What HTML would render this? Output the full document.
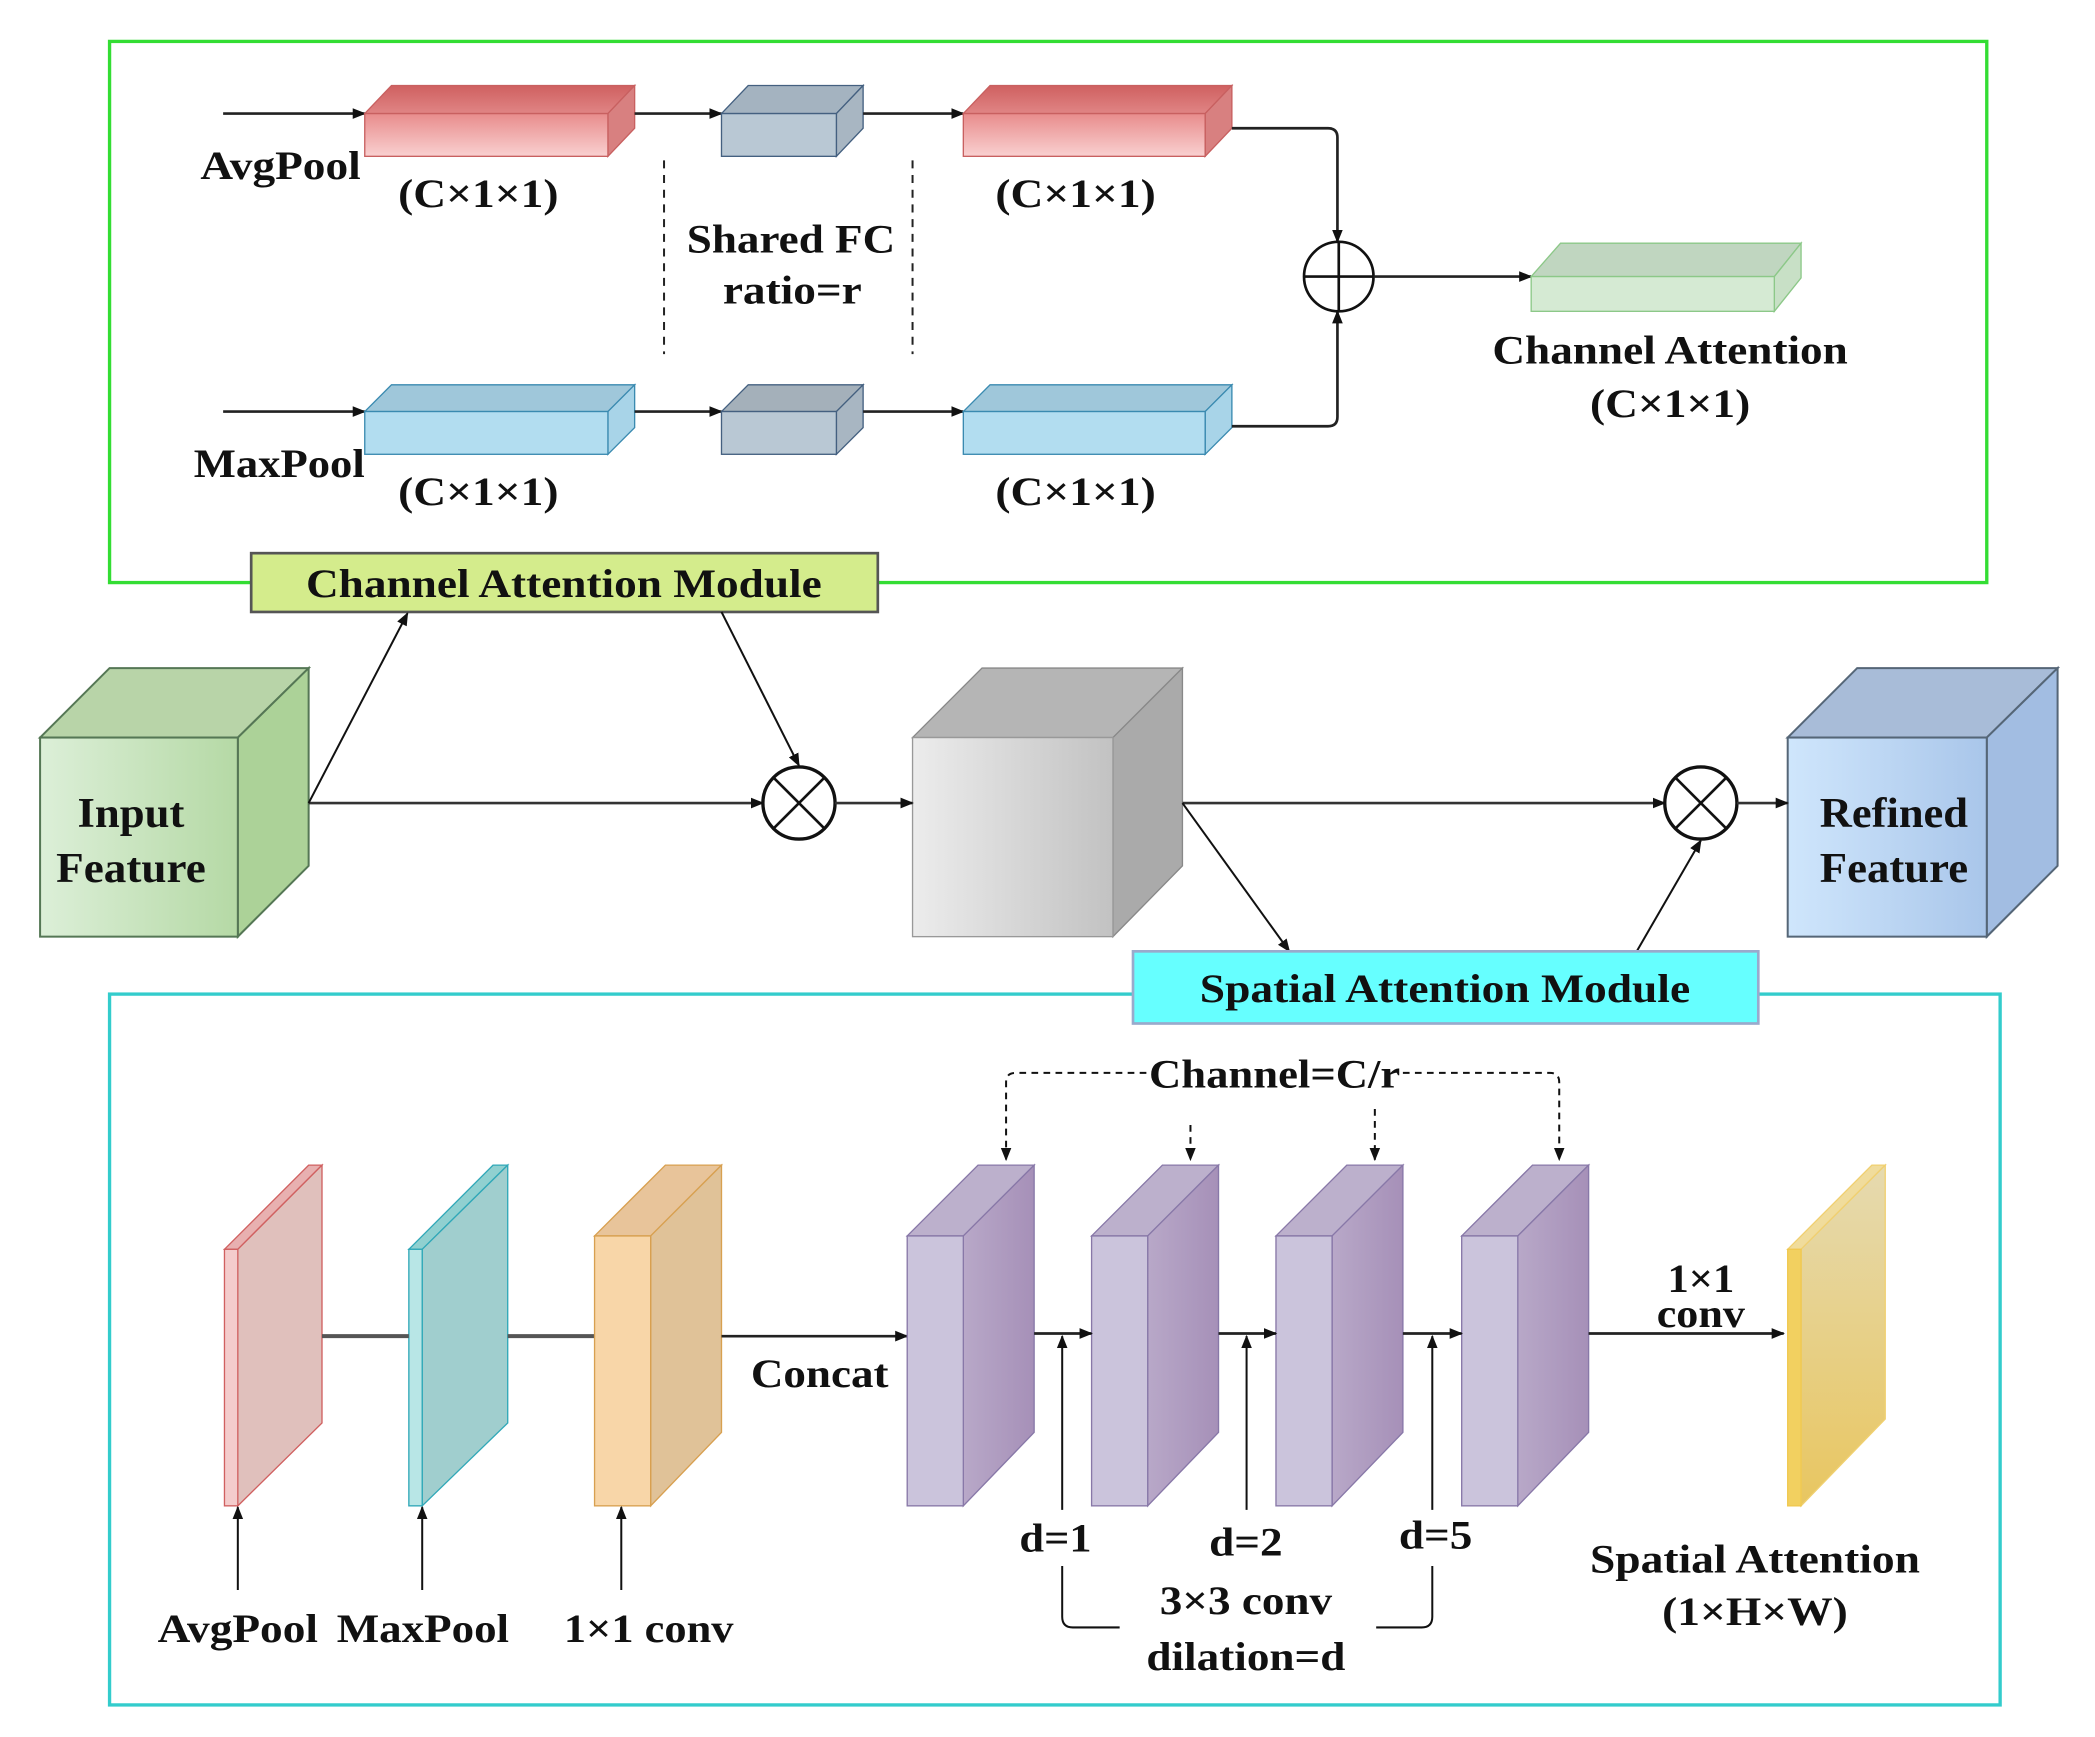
<!DOCTYPE html>
<html><head><meta charset="utf-8"><style>
html,body{margin:0;padding:0;background:#fff}
svg{display:block}
text{font-family:"Liberation Serif",serif;font-weight:bold;fill:#111}
</style></head><body>
<svg width="2095" height="1737" viewBox="0 0 1568 1300" preserveAspectRatio="none" xmlns="http://www.w3.org/2000/svg">
<defs>
<marker id="a" markerWidth="10" markerHeight="10" refX="9" refY="5" orient="auto" markerUnits="userSpaceOnUse"><path d="M0,1 L10,5 L0,9 Z" fill="#111"/></marker>
<linearGradient id="red" x1="0" y1="0" x2="0" y2="1"><stop offset="0" stop-color="#e88c8c"/><stop offset="1" stop-color="#f9d0d0"/></linearGradient>
<linearGradient id="redt" x1="0" y1="0" x2="0" y2="1"><stop offset="0" stop-color="#cf6060"/><stop offset="1" stop-color="#e08585"/></linearGradient>
<linearGradient id="gin" x1="0" y1="0" x2="1" y2="0"><stop offset="0" stop-color="#dcefd8"/><stop offset="1" stop-color="#b5d9a5"/></linearGradient>
<linearGradient id="gray" x1="0" y1="0" x2="1" y2="0"><stop offset="0" stop-color="#ececec"/><stop offset="1" stop-color="#c2c2c2"/></linearGradient>
<linearGradient id="blue" x1="0" y1="0" x2="1" y2="0"><stop offset="0" stop-color="#cfe6fc"/><stop offset="1" stop-color="#a9c6ea"/></linearGradient>
<linearGradient id="yel" x1="0" y1="0" x2="0" y2="1"><stop offset="0" stop-color="#e6dab0"/><stop offset="1" stop-color="#e8c660"/></linearGradient>
<linearGradient id="pur" x1="0" y1="0" x2="1" y2="0"><stop offset="0" stop-color="#b8a8c8"/><stop offset="1" stop-color="#a690b8"/></linearGradient>
</defs>

<rect x="82" y="31" width="1405" height="405" fill="none" stroke="#33dd33" stroke-width="2.5"/>
<line x1="167" y1="85" x2="273" y2="85" stroke="#222" stroke-width="2" marker-end="url(#a)"/>
<polygon points="273,85 293,64 475,64 455,85" fill="url(#redt)" stroke="#c86060"/>
<polygon points="455,85 475,64 475,96 455,117" fill="#d88080" stroke="#c86060"/>
<rect x="273" y="85" width="182" height="32" fill="url(#red)" stroke="#c86060"/>
<line x1="475" y1="85" x2="540" y2="85" stroke="#222" stroke-width="2" marker-end="url(#a)"/>
<polygon points="540,85 560,64 646,64 626,85" fill="#a4b3c0" stroke="#446080"/>
<polygon points="626,85 646,64 646,96 626,117" fill="#a8b6c2" stroke="#446080"/>
<rect x="540" y="85" width="86" height="32" fill="#b9c8d4" stroke="#446080"/>
<line x1="646" y1="85" x2="721" y2="85" stroke="#222" stroke-width="2" marker-end="url(#a)"/>
<polygon points="721,85 741,64 922,64 902,85" fill="url(#redt)" stroke="#c86060"/>
<polygon points="902,85 922,64 922,96 902,117" fill="#d88080" stroke="#c86060"/>
<rect x="721" y="85" width="181" height="32" fill="url(#red)" stroke="#c86060"/>
<path d="M922,96 H994 Q1001,96 1001,103 V181" fill="none" stroke="#222" stroke-width="2" marker-end="url(#a)"/>
<line x1="167" y1="308" x2="273" y2="308" stroke="#222" stroke-width="2" marker-end="url(#a)"/>
<polygon points="273,308 293,288 475,288 455,308" fill="#9fc7da" stroke="#3a8ab0"/>
<polygon points="455,308 475,288 475,320 455,340" fill="#a8d4e8" stroke="#3a8ab0"/>
<rect x="273" y="308" width="182" height="32" fill="#b2ddf0" stroke="#3a8ab0"/>
<line x1="475" y1="308" x2="540" y2="308" stroke="#222" stroke-width="2" marker-end="url(#a)"/>
<polygon points="540,308 560,288 646,288 626,308" fill="#a4b0ba" stroke="#446080"/>
<polygon points="626,308 646,288 646,320 626,340" fill="#a8b6c2" stroke="#446080"/>
<rect x="540" y="308" width="86" height="32" fill="#b9c8d4" stroke="#446080"/>
<line x1="646" y1="308" x2="721" y2="308" stroke="#222" stroke-width="2" marker-end="url(#a)"/>
<polygon points="721,308 741,288 922,288 902,308" fill="#9fc7da" stroke="#3a8ab0"/>
<polygon points="902,308 922,288 922,320 902,340" fill="#a8d4e8" stroke="#3a8ab0"/>
<rect x="721" y="308" width="181" height="32" fill="#b2ddf0" stroke="#3a8ab0"/>
<path d="M922,319 H994 Q1001,319 1001,312 V233" fill="none" stroke="#222" stroke-width="2" marker-end="url(#a)"/>
<circle cx="1002" cy="207" r="26" fill="#fff" stroke="#111" stroke-width="2"/>
<line x1="976" y1="207" x2="1028" y2="207" stroke="#111" stroke-width="2"/>
<line x1="1002" y1="181" x2="1002" y2="233" stroke="#111" stroke-width="2"/>
<line x1="1028" y1="207" x2="1146" y2="207" stroke="#222" stroke-width="2" marker-end="url(#a)"/>
<polygon points="1146,207 1168,182 1348,182 1328,207" fill="#c0d6c0" stroke="#8cc888"/>
<polygon points="1328,207 1348,182 1348,208 1328,233" fill="#c8e0c6" stroke="#8cc888"/>
<rect x="1146" y="207" width="182" height="26" fill="#d5ead3" stroke="#8cc888"/>
<line x1="497" y1="120" x2="497" y2="265" stroke="#222" stroke-width="1.5" stroke-dasharray="6,5"/>
<line x1="683" y1="120" x2="683" y2="265" stroke="#222" stroke-width="1.5" stroke-dasharray="6,5"/>
<g font-size="30" lengthAdjust="spacingAndGlyphs">
<text x="150" y="134" textLength="120" lengthAdjust="spacingAndGlyphs">AvgPool</text>
<text x="145" y="357" textLength="128" lengthAdjust="spacingAndGlyphs">MaxPool</text>
<text x="298" y="155" textLength="120" lengthAdjust="spacingAndGlyphs">(C×1×1)</text>
<text x="745" y="155" textLength="120" lengthAdjust="spacingAndGlyphs">(C×1×1)</text>
<text x="298" y="378" textLength="120" lengthAdjust="spacingAndGlyphs">(C×1×1)</text>
<text x="745" y="378" textLength="120" lengthAdjust="spacingAndGlyphs">(C×1×1)</text>
<text x="514" y="189" textLength="156" lengthAdjust="spacingAndGlyphs">Shared FC</text>
<text x="541" y="227" textLength="104" lengthAdjust="spacingAndGlyphs">ratio=r</text>
<text x="1117" y="272" textLength="266" lengthAdjust="spacingAndGlyphs">Channel Attention</text>
<text x="1190" y="312" textLength="120" lengthAdjust="spacingAndGlyphs">(C×1×1)</text>
</g>
<rect x="188" y="414" width="469" height="44" fill="#d4ec8c" stroke="#555" stroke-width="2"/>
<text x="229" y="447" font-size="30" textLength="386" lengthAdjust="spacingAndGlyphs">Channel Attention Module</text>

<polygon points="30,552 82,500 231,500 178,552" fill="#b8d4a8" stroke="#557755" stroke-width="1.5"/>
<polygon points="178,552 231,500 231,648 178,701" fill="#acd298" stroke="#557755" stroke-width="1.5"/>
<rect x="30" y="552" width="148" height="149" fill="url(#gin)" stroke="#557755" stroke-width="1.5"/>
<polygon points="683,552 735,500 885,500 833,552" fill="#b5b5b5" stroke="#888"/>
<polygon points="833,552 885,500 885,648 833,701" fill="#aaaaaa" stroke="#888"/>
<rect x="683" y="552" width="150" height="149" fill="url(#gray)" stroke="#999"/>
<polygon points="1338,552 1390,500 1540,500 1487,552" fill="#a8bcd8" stroke="#556677" stroke-width="1.5"/>
<polygon points="1487,552 1540,500 1540,648 1487,701" fill="#a2bde2" stroke="#556677" stroke-width="1.5"/>
<rect x="1338" y="552" width="149" height="149" fill="url(#blue)" stroke="#556677" stroke-width="1.5"/>
<g font-size="32">
<text x="58" y="619" textLength="80" lengthAdjust="spacingAndGlyphs">Input</text>
<text x="42" y="660" textLength="112" lengthAdjust="spacingAndGlyphs">Feature</text>
<text x="1362" y="619" textLength="111" lengthAdjust="spacingAndGlyphs">Refined</text>
<text x="1362" y="660" textLength="111" lengthAdjust="spacingAndGlyphs">Feature</text>
</g>
<line x1="231" y1="601" x2="571" y2="601" stroke="#333" stroke-width="2" marker-end="url(#a)"/>
<line x1="231" y1="601" x2="305" y2="459" stroke="#111" stroke-width="1.5" marker-end="url(#a)"/>
<line x1="540" y1="458" x2="598" y2="573" stroke="#111" stroke-width="1.5" marker-end="url(#a)"/>
<circle cx="598" cy="601" r="27" fill="#fff" stroke="#111" stroke-width="2.5"/>
<line x1="579" y1="582" x2="617" y2="620" stroke="#111" stroke-width="2"/>
<line x1="617" y1="582" x2="579" y2="620" stroke="#111" stroke-width="2"/>
<line x1="625" y1="601" x2="683" y2="601" stroke="#333" stroke-width="2" marker-end="url(#a)"/>
<line x1="885" y1="601" x2="1246" y2="601" stroke="#333" stroke-width="2" marker-end="url(#a)"/>
<line x1="885" y1="601" x2="965" y2="712" stroke="#111" stroke-width="1.5" marker-end="url(#a)"/>
<line x1="1225" y1="712" x2="1273" y2="629" stroke="#111" stroke-width="1.5" marker-end="url(#a)"/>
<circle cx="1273" cy="601" r="27" fill="#fff" stroke="#111" stroke-width="2.5"/>
<line x1="1254" y1="582" x2="1292" y2="620" stroke="#111" stroke-width="2"/>
<line x1="1292" y1="582" x2="1254" y2="620" stroke="#111" stroke-width="2"/>
<line x1="1300" y1="601" x2="1338" y2="601" stroke="#333" stroke-width="2" marker-end="url(#a)"/>

<rect x="82" y="744" width="1415" height="532" fill="none" stroke="#33cccc" stroke-width="2.5"/>
<rect x="848" y="712" width="468" height="54" fill="#66ffff" stroke="#99aacc" stroke-width="2"/>
<text x="898" y="750" font-size="30" textLength="367" lengthAdjust="spacingAndGlyphs">Spatial Attention Module</text>

<polygon points="168,935 231,872 241,872 178,935" fill="#e8b0b0" stroke="#d06060"/>
<polygon points="178,935 241,872 241,1065 178,1127" fill="#e0c0bc" stroke="#d06060"/>
<rect x="168" y="935" width="10" height="192" fill="#f4cccc" stroke="#d06060"/>
<polygon points="306,935 369,872 380,872 316,935" fill="#90d0d0" stroke="#30a8b8"/>
<polygon points="316,935 380,872 380,1065 316,1127" fill="#a0cece" stroke="#30a8b8"/>
<rect x="306" y="935" width="10" height="192" fill="#b8e6e6" stroke="#30a8b8"/>
<line x1="241" y1="1000" x2="306" y2="1000" stroke="#555" stroke-width="3"/>
<line x1="380" y1="1000" x2="445" y2="1000" stroke="#555" stroke-width="3"/>
<polygon points="445,925 498,872 540,872 487,925" fill="#e8c49a" stroke="#d8a050"/>
<polygon points="487,925 540,872 540,1072 487,1127" fill="#e0c298" stroke="#d8a050"/>
<rect x="445" y="925" width="42" height="202" fill="#f8d6a8" stroke="#d8a050"/>
<line x1="540" y1="1000" x2="679" y2="1000" stroke="#222" stroke-width="2" marker-end="url(#a)"/>
<g stroke="#8878a8">
<polygon points="679,925 732,872 774,872 721,925" fill="#bcb0cc"/>
<polygon points="721,925 774,872 774,1072 721,1127" fill="url(#pur)"/>
<rect x="679" y="925" width="42" height="202" fill="#cbc4dc"/>
<polygon points="817,925 870,872 912,872 859,925" fill="#bcb0cc"/>
<polygon points="859,925 912,872 912,1072 859,1127" fill="url(#pur)"/>
<rect x="817" y="925" width="42" height="202" fill="#cbc4dc"/>
<polygon points="955,925 1008,872 1050,872 997,925" fill="#bcb0cc"/>
<polygon points="997,925 1050,872 1050,1072 997,1127" fill="url(#pur)"/>
<rect x="955" y="925" width="42" height="202" fill="#cbc4dc"/>
<polygon points="1094,925 1147,872 1189,872 1136,925" fill="#bcb0cc"/>
<polygon points="1136,925 1189,872 1189,1072 1136,1127" fill="url(#pur)"/>
<rect x="1094" y="925" width="42" height="202" fill="#cbc4dc"/>
</g>
<line x1="774" y1="998" x2="817" y2="998" stroke="#222" stroke-width="2" marker-end="url(#a)"/>
<line x1="912" y1="998" x2="955" y2="998" stroke="#222" stroke-width="2" marker-end="url(#a)"/>
<line x1="1050" y1="998" x2="1094" y2="998" stroke="#222" stroke-width="2" marker-end="url(#a)"/>
<line x1="1189" y1="998" x2="1335" y2="998" stroke="#222" stroke-width="2" marker-end="url(#a)"/>
<polygon points="1338,935 1401,872 1411,872 1348,935" fill="#f0dc9c" stroke="#f0d070"/>
<polygon points="1348,935 1411,872 1411,1062 1348,1127" fill="url(#yel)" stroke="#f0d070"/>
<rect x="1338" y="935" width="10" height="192" fill="#f2d060" stroke="#f0c850"/>

<g stroke="#111" stroke-width="1.5">
<line x1="178" y1="1190" x2="178" y2="1128" marker-end="url(#a)"/>
<line x1="316" y1="1190" x2="316" y2="1128" marker-end="url(#a)"/>
<line x1="465" y1="1190" x2="465" y2="1128" marker-end="url(#a)"/>
<line x1="795" y1="1130" x2="795" y2="1000" marker-end="url(#a)"/>
<line x1="933" y1="1130" x2="933" y2="1000" marker-end="url(#a)"/>
<line x1="1072" y1="1130" x2="1072" y2="1000" marker-end="url(#a)"/>
<path d="M795,1172 V1210 Q795,1218 803,1218 H838" fill="none"/>
<path d="M1072,1172 V1210 Q1072,1218 1064,1218 H1030" fill="none"/>
</g>
<g stroke="#111" stroke-width="1.5" stroke-dasharray="5,4" fill="none">
<path d="M858,803 H760 Q753,803 753,810 V868" marker-end="url(#a)"/>
<path d="M1050,803 H1160 Q1167,803 1167,810 V868" marker-end="url(#a)"/>
<line x1="891" y1="842" x2="891" y2="868" marker-end="url(#a)"/>
<line x1="1029" y1="830" x2="1029" y2="868" marker-end="url(#a)"/>
</g>
<g font-size="30">
<text x="860" y="814" textLength="188" lengthAdjust="spacingAndGlyphs">Channel=C/r</text>
<text x="562" y="1038" textLength="103" lengthAdjust="spacingAndGlyphs">Concat</text>
<text x="1248" y="967" textLength="50" lengthAdjust="spacingAndGlyphs">1×1</text>
<text x="1240" y="993" textLength="66" lengthAdjust="spacingAndGlyphs">conv</text>
<text x="118" y="1229" textLength="120" lengthAdjust="spacingAndGlyphs">AvgPool</text>
<text x="252" y="1229" textLength="129" lengthAdjust="spacingAndGlyphs">MaxPool</text>
<text x="422" y="1229" textLength="127" lengthAdjust="spacingAndGlyphs">1×1 conv</text>
<text x="763" y="1161" textLength="54" lengthAdjust="spacingAndGlyphs">d=1</text>
<text x="905" y="1164" textLength="55" lengthAdjust="spacingAndGlyphs">d=2</text>
<text x="1047" y="1159" textLength="55" lengthAdjust="spacingAndGlyphs">d=5</text>
<text x="868" y="1208" textLength="129" lengthAdjust="spacingAndGlyphs">3×3 conv</text>
<text x="858" y="1250" textLength="149" lengthAdjust="spacingAndGlyphs">dilation=d</text>
<text x="1190" y="1177" textLength="247" lengthAdjust="spacingAndGlyphs">Spatial Attention</text>
<text x="1244" y="1216" textLength="139" lengthAdjust="spacingAndGlyphs">(1×H×W)</text>
</g>
</svg>
</body></html>
